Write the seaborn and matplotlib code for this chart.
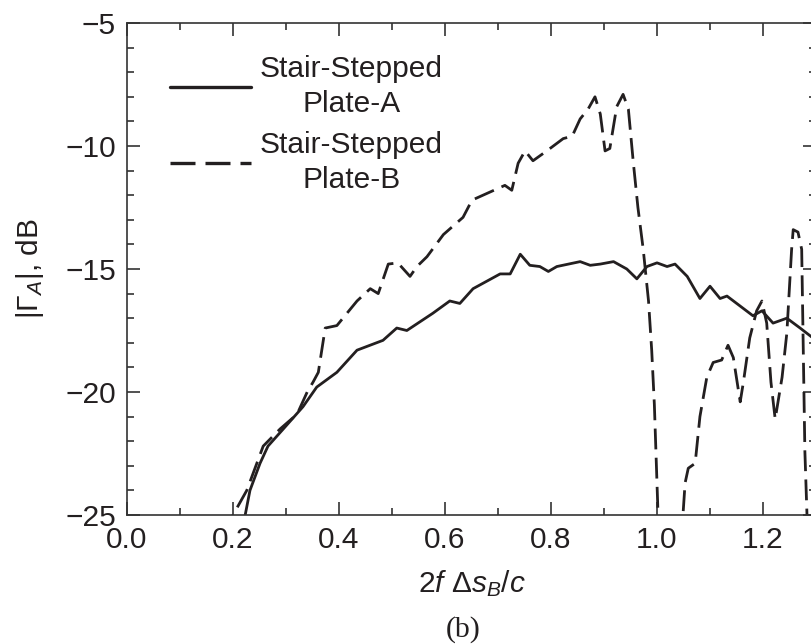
import matplotlib
matplotlib.use("Agg")
import matplotlib.pyplot as plt
import seaborn as sns
import pandas as pd
from matplotlib.lines import Line2D
from matplotlib.ticker import MultipleLocator

# ---- data ----
plate_a_x = [0.205, 0.223, 0.232, 0.251, 0.266, 0.295, 0.332, 0.358, 0.396, 0.434, 0.483, 0.509,
             0.528, 0.577, 0.609, 0.628, 0.653, 0.704, 0.723, 0.742, 0.760, 0.779, 0.795, 0.811,
             0.855, 0.874, 0.893, 0.918, 0.943, 0.962, 0.981, 1.000, 1.019, 1.034, 1.057, 1.081,
             1.100, 1.119, 1.132, 1.181, 1.198, 1.219, 1.245, 1.270, 1.300]
plate_a_y = [-25.8, -25.0, -24.0, -22.9, -22.2, -21.5, -20.6, -19.8, -19.2, -18.3, -17.9, -17.4,
             -17.5, -16.8, -16.3, -16.4, -15.8, -15.2, -15.2, -14.4, -14.85, -14.9, -15.1, -14.9,
             -14.7, -14.85, -14.8, -14.7, -15.0, -15.4, -14.9, -14.75, -14.9, -14.8, -15.3, -16.2,
             -15.7, -16.2, -16.1, -16.9, -16.7, -17.2, -17.0, -17.4, -17.9]

plate_b_x = [0.190, 0.200, 0.226, 0.257, 0.289, 0.321, 0.340, 0.351, 0.361, 0.374, 0.396, 0.434,
             0.459, 0.474, 0.493, 0.511, 0.534, 0.547, 0.566, 0.597, 0.634, 0.651, 0.713, 0.726,
             0.738, 0.751, 0.766, 0.792, 0.823, 0.840, 0.855, 0.870, 0.883, 0.893, 0.902, 0.911,
             0.924, 0.936, 0.946, 0.955, 0.964, 0.974, 0.984, 0.990, 0.995, 1.002, 1.012, 1.040,
             1.049, 1.053, 1.059, 1.072, 1.081, 1.094, 1.106, 1.122, 1.134, 1.144, 1.157, 1.163,
             1.175, 1.188, 1.198, 1.207, 1.215, 1.223, 1.236, 1.245, 1.254, 1.257, 1.266, 1.273,
             1.276, 1.279, 1.283, 1.290]
plate_b_y = [-25.8, -25.0, -24.0, -22.2, -21.5, -20.9, -20.0, -19.6, -19.2, -17.4, -17.3, -16.3,
             -15.8, -16.0, -14.8, -14.75, -15.3, -14.9, -14.5, -13.6, -12.9, -12.2, -11.6, -11.8,
             -10.7, -10.2, -10.6, -10.2, -9.7, -9.6, -8.9, -8.5, -8.0, -8.7, -10.2, -10.1,
             -8.4, -7.9, -8.5, -10.6, -12.5, -14.2, -16.3, -18.3, -20.5, -25.0, -27.0, -27.0,
             -25.0, -23.7, -23.1, -22.9, -21.0, -19.4, -18.8, -18.7, -18.1, -18.6, -20.4, -19.6,
             -17.8, -16.7, -16.3, -17.2, -19.6, -21.1, -19.4, -17.6, -14.2, -13.4, -13.5, -14.2,
             -18.3, -22.4, -25.0, -27.0]

label_a = "Stair-Stepped\nPlate-A"
label_b = "Stair-Stepped\nPlate-B"
x_label = r"$\mathit{2f}\ \Delta s_B/c$"
y_label = r"$|\Gamma_A|$, dB"
panel_label = "(b)"

x_ticks = [0.0, 0.2, 0.4, 0.6, 0.8, 1.0, 1.2]
y_ticks = [-25, -20, -15, -10, -5]

df_a = pd.DataFrame({"x": plate_a_x, "y": plate_a_y})
df_b = pd.DataFrame({"x": plate_b_x, "y": plate_b_y})

# ---- style ----
sns.set_style("ticks")
plt.rcParams["font.family"] = ["Liberation Sans", "DejaVu Sans"]
plt.rcParams["mathtext.fontset"] = "custom"
plt.rcParams["mathtext.rm"] = "Liberation Sans"
plt.rcParams["mathtext.it"] = "Liberation Sans:italic"
plt.rcParams["mathtext.bf"] = "Liberation Sans:bold"

ink = "#231f20"
fs = 21.5

fig = plt.figure(figsize=(8.11, 6.44), dpi=100)
ax = fig.add_axes([127 / 811, (644 - 515) / 644, 689 / 811, 492 / 644])

sns.lineplot(data=df_a, x="x", y="y", ax=ax, color=ink, lw=2.0, estimator=None, sort=False)
sns.lineplot(data=df_b, x="x", y="y", ax=ax, color=ink, lw=2.0, estimator=None, sort=False,
             linestyle=(0, (7.5, 3)))

ax.set_xlim(0, 1.3)
ax.set_ylim(-25, -5)
ax.set_xticks(x_ticks)
ax.set_xticklabels([f"{v:.1f}" for v in x_ticks])
ax.set_yticks(y_ticks)
ax.xaxis.set_minor_locator(MultipleLocator(0.1))
ax.yaxis.set_minor_locator(MultipleLocator(1))

for s in ax.spines.values():
    s.set_color("#333333")
    s.set_linewidth(1.2)

ax.tick_params(which="both", direction="in", top=True, right=True, color="#333333", width=1.2,
               labelcolor=ink, labelsize=fs)
ax.tick_params(which="major", length=9.5)
ax.tick_params(which="minor", length=5)
ax.tick_params(axis="x", which="major", pad=8)
ax.tick_params(axis="y", which="major", pad=8)

ax.set_xlabel(x_label, fontsize=fs, color=ink, labelpad=10)
ax.set_ylabel(y_label, fontsize=fs, color=ink, labelpad=14)

handles = [Line2D([], [], color=ink, lw=2.4),
           Line2D([], [], color=ink, lw=2.4, linestyle=(0, (7.5, 3)))]
leg = ax.legend(handles, [label_a, label_b], loc="upper left",
                bbox_to_anchor=(0.063, 0.935), frameon=False, fontsize=fs,
                handlelength=2.7, handletextpad=0.3, labelspacing=0.45,
                borderpad=0, borderaxespad=0)
for t in leg.get_texts():
    t.set_multialignment("center")
    t.set_color(ink)
    t.set_linespacing(1.3)

fig.text(463 / 811, 1 - 630 / 644, panel_label, ha="center", va="center",
         fontsize=fs, family=["Liberation Serif", "DejaVu Serif"], color=ink)

fig.savefig("out.png", dpi=100)
